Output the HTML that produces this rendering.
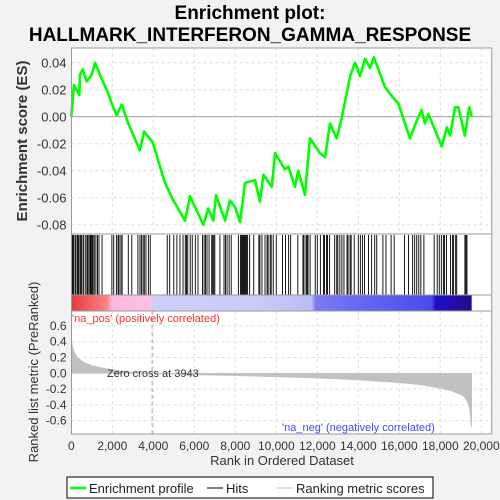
<!DOCTYPE html>
<html><head><meta charset="utf-8"><style>
body{margin:0;background:#f2f2f2;}
svg{display:block;font-family:"Liberation Sans","DejaVu Sans",sans-serif;}
</style></head><body>
<svg id="chart" width="500" height="500" viewBox="0 0 500 500">
<rect x="0" y="0" width="500" height="500" fill="#f2f2f2"/>
<text x="250" y="19" text-anchor="middle" font-size="19" font-weight="bold">Enrichment plot:</text>
<text x="250" y="41" text-anchor="middle" font-size="19" font-weight="bold">HALLMARK_INTERFERON_GAMMA_RESPONSE</text>
<defs>
<linearGradient id="cbar" x1="0" x2="1" y1="0" y2="0">
<stop offset="0" stop-color="#e83a3a"/>
<stop offset="0.09" stop-color="#ff8585"/>
<stop offset="0.1" stop-color="#fcb8dc"/>
<stop offset="0.2" stop-color="#fcc0e4"/>
<stop offset="0.202" stop-color="#cfcffa"/>
<stop offset="0.46" stop-color="#cbcbf8"/>
<stop offset="0.6" stop-color="#bcbcf7"/>
<stop offset="0.61" stop-color="#7a7af5"/>
<stop offset="0.9" stop-color="#4a4aea"/>
<stop offset="0.91" stop-color="#1d0fc8"/>
<stop offset="1" stop-color="#2a0a8a"/>
</linearGradient>
</defs>
<g id="toppanel"></g>
<g id="hitspanel"></g>
<g id="botpanel"></g>
<g>
<rect x="67" y="477" width="366" height="21" fill="#fff" stroke="#000" stroke-width="1"/>
<line x1="70" y1="488" x2="86" y2="488" stroke="#00ff00" stroke-width="2.5"/>
<text x="89" y="493" font-size="13" fill="#222">Enrichment profile</text>
<line x1="207" y1="488" x2="223" y2="488" stroke="#000" stroke-width="1"/>
<text x="226" y="493" font-size="13" fill="#222">Hits</text>
<line x1="277" y1="488" x2="293" y2="488" stroke="#c0c0c0" stroke-width="1"/>
<text x="296" y="493" font-size="13" fill="#222">Ranking metric scores</text>
</g>
</svg>
<script>
const esRanks=[0,130,390,424,555,750,995,1156,1400,1805,1970,2215,2460,2780,3350,3546,3760,3970,4570,4975,5546,5790,6440,6680,6930,7060,7500,7740,7990,8230,8475,8960,9200,9370,9780,9940,10420,10590,10910,11070,11400,11640,12130,12380,12620,12950,13190,13350,13600,13840,14080,14330,14570,14760,15300,15700,15950,16520,16850,17090,17250,17420,18070,18320,18480,18720,18880,19200,19410,19530];
const esValues=[0,0.0235,0.016,0.031,0.035,0.026,0.031,0.04,0.031,0.017,0.01,0.001,0.009,-0.005,-0.025,-0.011,-0.015,-0.019,-0.049,-0.062,-0.077,-0.059,-0.08,-0.068,-0.077,-0.058,-0.077,-0.062,-0.067,-0.078,-0.049,-0.047,-0.063,-0.043,-0.052,-0.027,-0.039,-0.037,-0.052,-0.04,-0.058,-0.016,-0.027,-0.03,-0.005,-0.016,-0.001,0.011,0.03,0.04,0.03,0.043,0.036,0.044,0.022,0.014,0.01,-0.016,-0.003,0.005,-0.005,0.002,-0.022,-0.008,-0.014,0.007,0.007,-0.014,0.007,0];
const hitRanks=[20,60,110,180,230,300,350,420,470,520,600,680,760,800,860,920,960,1010,1060,1120,1200,1280,1350,1500,1980,2070,2200,2280,2330,2420,2480,2780,2950,3250,3350,3420,3500,3560,3640,3760,3850,4680,4800,5000,5150,5300,5450,5560,5620,5680,5800,5900,6050,6180,6400,6480,6550,6620,6720,6850,6900,6950,7000,7250,7450,7520,7600,7700,7800,8150,8250,8300,8350,8400,8450,8500,8550,8600,8700,8900,9150,9200,9300,9450,9550,9600,9700,9750,9850,10000,10300,10450,10600,10700,11050,11300,11350,11450,11500,11550,11650,11900,12000,12150,12300,12350,12450,12500,12600,12850,12950,13000,13100,13200,13300,13450,13500,13600,13650,13800,14000,14100,14200,14300,14500,14650,14800,14900,15200,15350,15600,15750,16250,16450,16650,16750,16850,16950,17050,17200,17700,17850,17950,18050,18150,18200,18300,18500,18600,18650,18750,18800,19200,19250,19300];
const metricRanks=[0,20,60,150,300,600,1000,1500,2000,3000,3943,6000,8000,10000,12000,14000,16000,17000,18000,18500,19000,19200,19350,19420,19470,19500,19530];
const metricValues=[0.5,0.42,0.34,0.27,0.2,0.14,0.1,0.07,0.045,0.015,0,-0.02,-0.03,-0.045,-0.06,-0.085,-0.12,-0.145,-0.19,-0.22,-0.27,-0.31,-0.38,-0.45,-0.55,-0.66,-0.68];
const xTicks=[0,2000,4000,6000,8000,10000,12000,14000,16000,18000,20000];
const esTicks=[0.04,0.02,0,-0.02,-0.04,-0.06,-0.08];
const metricTicks=[0.6,0.4,0.2,0,-0.2,-0.4,-0.6];
const NS='http://www.w3.org/2000/svg';
const L=71.5,R=491.7;
const xs=r=>71.3+r*0.0205;
const yES=v=>116.7-v*1350;
const yM=v=>373.3-v*79;
function mk(tag,attrs,parent){const e=document.createElementNS(NS,tag);for(const k in attrs)e.setAttribute(k,attrs[k]);parent.appendChild(e);return e;}
const gTop=document.getElementById('toppanel'),gHits=document.getElementById('hitspanel'),gBot=document.getElementById('botpanel');
mk('rect',{x:L,y:48,width:R-L,height:186,fill:'#fff'},gTop);
xTicks.forEach(t=>{if(t>0){const g=mk('line',{x1:xs(t),x2:xs(t),y1:48,y2:234,stroke:'#ddd','stroke-dasharray':'3,3'},gTop);

}});
esTicks.forEach(t=>{const g=mk('line',{x1:L,x2:R,y1:yES(t),y2:yES(t),stroke:'#ddd','stroke-dasharray':'3,3'},gTop);


const tx=mk('text',{x:L-5,y:yES(t)+5,'text-anchor':'end','font-size':'13',fill:'#333'},gTop);
tx.textContent=t===0?'0.00':t.toFixed(2);

});
mk('line',{x1:L,x2:R,y1:yES(0),y2:yES(0),stroke:'#aaa','stroke-width':1.2},gTop);
const esPath=mk('polyline',{points:esRanks.map((r,i)=>xs(r)+','+yES(esValues[i])).join(' '),fill:'none',stroke:'#00ff00','stroke-width':2.6,'stroke-linejoin':'round'},gTop);


mk('rect',{x:L,y:48,width:R-L,height:186,fill:'none',stroke:'#999'},gTop);
const yt=mk('text',{x:27,y:141,'text-anchor':'middle','font-size':'15',fill:'#333',transform:'rotate(-90 27 141)','font-weight':'bold'},gTop);
yt.textContent='Enrichment score (ES)';


mk('rect',{x:L,y:234,width:R-L,height:77,fill:'#fff'},gHits);
hitRanks.forEach(r=>{const h=mk('line',{x1:xs(r),x2:xs(r),y1:235,y2:295,stroke:'#000','stroke-width':0.9},gHits);

});
const cb=mk('rect',{x:L,y:295,width:xs(19530)-L,height:16,fill:'url(#cbar)'},gHits);


mk('rect',{x:L,y:234,width:R-L,height:77,fill:'none',stroke:'#999'},gHits);
mk('line',{x1:L,x2:R,y1:295,y2:295,stroke:'#999'},gHits);
mk('rect',{x:L,y:311,width:R-L,height:123,fill:'#fff'},gBot);
xTicks.forEach(t=>{if(t>0){const g=mk('line',{x1:xs(t),x2:xs(t),y1:311,y2:434,stroke:'#ddd','stroke-dasharray':'3,3'},gBot);

}
const tx=mk('text',{x:xs(t),y:450,'text-anchor':'middle','font-size':'12',fill:'#333'},gBot);
tx.textContent=t.toLocaleString('en-US');

});
metricTicks.forEach(t=>{const g=mk('line',{x1:L,x2:R,y1:yM(t),y2:yM(t),stroke:'#ddd','stroke-dasharray':'3,3'},gBot);


const tx=mk('text',{x:L-5,y:yM(t)+4,'text-anchor':'end','font-size':'12',fill:'#333'},gBot);
tx.textContent=t.toFixed(1);

});
let pts=xs(0)+','+yM(0)+' '+metricRanks.map((r,i)=>xs(r)+','+yM(metricValues[i])).join(' ')+' '+xs(19530)+','+yM(0);
const area=mk('polygon',{points:pts,fill:'#c0c0c0',stroke:'#c0c0c0','stroke-width':0.5},gBot);


const zl=mk('line',{x1:xs(3943),x2:xs(3943),y1:311,y2:434,stroke:'#aaa','stroke-dasharray':'4,3'},gBot);


const zt=mk('text',{x:107,y:377,'font-size':'11',fill:'#333'},gBot);
zt.textContent='Zero cross at 3943';


const pt=mk('text',{x:72,y:322,'font-size':'11',fill:'#ff3030'},gBot);
pt.textContent="'na_pos' (positively correlated)";


const nt=mk('text',{x:282,y:431,'font-size':'11',fill:'#4646ff'},gBot);
nt.textContent="'na_neg' (negatively correlated)";


mk('rect',{x:L,y:311,width:R-L,height:123,fill:'none',stroke:'#999'},gBot);
const bt=mk('text',{x:38,y:372,'text-anchor':'middle','font-size':'13',fill:'#333',transform:'rotate(-90 38 372)'},gBot);
bt.textContent='Ranked list metric (PreRanked)';


const xt=mk('text',{x:282,y:465,'text-anchor':'middle','font-size':'13',fill:'#333'},gBot);
xt.textContent='Rank in Ordered Dataset';


</script>
</body></html>
